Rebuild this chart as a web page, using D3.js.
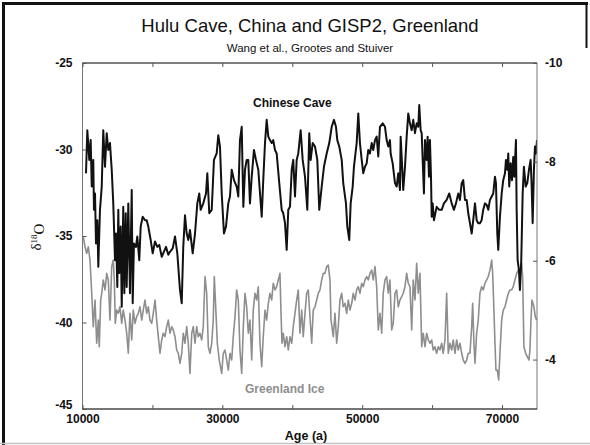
<!DOCTYPE html>
<html>
<head>
<meta charset="utf-8">
<script src="https://cdn.jsdelivr.net/npm/d3@7"></script>
<style>
  body { margin: 0; background: #fff; }
  svg { display: block; font-family: "Liberation Sans", Arial, sans-serif; }
</style>
</head>
<body>
<div id="chart"></div>
<script>
// Hulu Cave (Wang et al.) d18O, right axis
var caveSeries = [
  [10500,-7.77],[10690,-8.64],[10970,-8.04],[11170,-8.44],[11320,-7.50],[11540,-8.04],[11640,-7.03],[11790,-7.36],[11930,-6.35],[12120,-6.82],
  [12260,-5.88],[12500,-7.03],[12750,-7.50],[12970,-8.64],[13220,-7.90],[13460,-8.58],[13690,-8.24],[13930,-8.38],[14180,-7.84],[14400,-7.16],
  [14650,-6.01],[14790,-6.55],[14980,-5.47],[15120,-7.03],[15260,-5.75],[15460,-6.69],[15610,-5.07],[15830,-7.09],[15980,-5.34],[16180,-6.96],
  [16320,-5.47],[16550,-7.16],[16790,-5.34],[17040,-7.43],[17180,-5.14],[17360,-6.35],[17650,-6.28],[17840,-6.49],[18120,-6.01],[18320,-6.69],
  [18610,-6.89],[18940,-6.82],[19180,-6.82],[19410,-6.69],[19750,-6.42],[20040,-6.15],[20370,-6.39],[20700,-6.28],[20980,-6.32],[21330,-6.08],
  [21550,-6.15],[21940,-6.28],[22270,-6.12],[22510,-6.18],[22900,-6.25],[23230,-6.49],[23560,-6.15],[23940,-5.41],[24190,-5.14],[24410,-6.28],
  [24660,-6.92],[24900,-6.55],[25130,-6.42],[25370,-6.62],[25760,-6.15],[26090,-6.55],[26420,-7.16],[26700,-7.36],[26900,-7.03],[27270,-7.16],
  [27660,-7.36],[27850,-7.77],[28130,-6.96],[28480,-7.03],[28800,-8.04],[29190,-8.17],[29420,-8.54],[29660,-8.31],[29910,-7.36],[30230,-6.55],
  [30520,-6.69],[30850,-7.16],[31090,-7.30],[31340,-7.84],[31660,-7.63],[32050,-7.50],[32280,-7.30],[32520,-8.44],
  [32770,-8.71],[33000,-7.09],[33240,-7.84],[33480,-8.04],[33710,-8.04],[33950,-7.16],[34200,-7.70],[34520,-8.24],[34810,-8.04],[35140,-7.84],
  [35630,-6.89],[35850,-7.63],[36100,-8.38],[36340,-8.85],[36570,-8.51],[36810,-8.44],[37060,-8.38],[37280,-8.44],[37530,-8.24],[37770,-8.17],
  [38140,-7.57],[38490,-7.03],[38710,-6.96],[38960,-6.76],[39200,-6.22],[39430,-7.03],[39670,-7.09],[39920,-7.84],[40140,-8.04],[40390,-7.30],
  [40630,-8.04],[40860,-8.17],[41200,-8.64],[41490,-8.04],[41820,-7.70],[42150,-7.03],[42430,-8.58],[42630,-8.04],[42920,-8.38],[43250,-8.31],
  [43580,-8.04],[43860,-7.03],[44210,-7.50],[44530,-7.90],[44920,-8.17],[45290,-8.38],[45640,-8.71],[45960,-8.85],[46250,-8.71],[46440,-8.44],
  [46720,-8.31],[47070,-8.04],[47290,-7.57],[47680,-7.16],[47870,-6.69],[48150,-6.42],[48350,-7.16],[48640,-7.50],[48820,-7.90],[49210,-8.38],
  [49440,-8.98],[49680,-8.38],[49930,-8.04],[50150,-7.77],[50400,-7.90],[50640,-7.97],[50870,-8.24],[51110,-8.17],[51360,-8.38],[51580,-8.24],
  [51830,-8.44],[52070,-8.51],[52300,-8.11],[52540,-8.71],[52930,-8.78],[53260,-8.71],[53500,-8.44],[53730,-8.31],[53970,-8.44],
  [54070,-8.17],[54360,-7.97],[54690,-7.57],[54930,-7.50],[55160,-7.77],[55400,-7.43],[55500,-8.51],[55690,-7.97],[55870,-7.43],[56120,-7.90],
  [56360,-8.51],[56590,-8.98],[56830,-8.78],[57080,-8.64],[57300,-8.85],[57550,-8.58],[57790,-8.78],[58020,-8.71],[58160,-9.15],[58360,-8.64],
  [58510,-8.58],[58650,-8.04],[58830,-7.36],[58980,-8.44],[59220,-8.04],[59360,-8.51],[59550,-7.70],[59690,-8.44],[59840,-7.70],[59940,-6.89],
  [60080,-7.16],[60260,-6.82],[60650,-7.09],[61020,-7.03],[61370,-7.03],[61690,-7.16],[62080,-7.23],[62450,-7.36],[62800,-7.16],[63120,-7.03],
  [63410,-7.16],[63740,-7.36],[63980,-7.23],[64230,-7.57],[64450,-7.63],[64700,-7.23],[64940,-7.23],[65170,-6.96],[65410,-6.76],[65660,-6.55],
  [65880,-6.82],[66130,-7.16],[66370,-6.82],[66600,-6.76],[66840,-6.76],[67080,-6.82],[67310,-7.03],[67560,-7.16],[67800,-7.13],[68030,-7.03],
  [68270,-7.23],[68520,-7.30],[68740,-7.36],[68990,-7.70],[69130,-7.57],[69320,-6.55],[69460,-6.22],[69700,-6.89],[69950,-7.36],[70170,-7.63],
  [70420,-7.77],[70560,-8.04],[70750,-7.84],[70890,-8.17],[71030,-7.50],[71230,-7.97],[71420,-7.63],[71600,-8.10],[71750,-7.70],[71990,-8.44],
  [72090,-7.03],[72230,-6.01],[72420,-5.81],[72560,-5.41],[72750,-6.01],[72950,-7.36],[73130,-7.90],[73380,-7.50],[73610,-7.57],[73850,-7.84],
  [74090,-8.04],[74240,-7.50],[74380,-6.76],[74560,-7.84],[74710,-8.31],[74850,-8.17],[75000,-8.44]
];

// GISP2 (Grootes and Stuiver) d18O, left axis
var iceSeries = [
  [10110,-35.04],[10360,-35.62],[10600,-36.00],[10830,-35.62],[11070,-36.39],[11320,-38.31],[11540,-40.24],[11790,-38.70],[12030,-41.20],[12260,-39.86],
  [12400,-41.40],[12600,-38.70],[12750,-38.31],[12970,-37.54],[13220,-38.12],[13460,-37.16],[13690,-37.54],[13930,-39.86],[14180,-36.77],[14400,-36.39],
  [14550,-37.54],[14690,-40.05],[14890,-39.28],[15120,-39.47],[15360,-39.09],[15610,-40.05],[15830,-39.28],[16080,-39.86],[16320,-40.62],[16550,-41.78],
  [16790,-39.47],[17040,-41.01],[17260,-39.28],[17510,-40.05],[17750,-39.66],[17980,-39.47],[18220,-39.09],[18470,-39.86],[18690,-39.28],[18940,-38.70],
  [19180,-39.47],[19410,-39.09],[19650,-39.86],[19900,-40.05],[20120,-39.47],[20370,-38.70],[20610,-39.86],[20840,-40.82],[21080,-41.78],[21330,-41.01],
  [21550,-40.62],[21800,-40.82],[22040,-40.24],[22270,-39.86],[22510,-40.62],[22760,-40.24],[22980,-40.43],[23230,-40.82],[23470,-41.59],[23700,-41.78],
  [23940,-42.36],[24190,-41.78],[24410,-40.62],[24660,-41.20],[24900,-40.24],[25130,-41.20],[25370,-42.94],[25620,-40.62],[25840,-40.24],[26090,-41.20],
  [26330,-40.24],[26560,-40.82],[26800,-40.62],[27050,-41.01],[27270,-40.24],[27520,-37.35],[27760,-38.31],[27990,-41.40],[28230,-41.78],[28480,-41.20],
  [28700,-39.86],[28850,-37.35],[29090,-39.47],[29280,-41.20],[29560,-42.17],[29910,-42.94],[30130,-41.78],[30380,-41.59],[30620,-42.17],[30850,-42.75],
  [31090,-41.78],[31340,-42.17],[31560,-40.82],[31810,-39.66],[32050,-38.12],[32280,-38.70],
  [32520,-41.59],[32770,-42.94],[33000,-40.24],[33240,-38.31],[33480,-39.09],[33710,-40.62],[33950,-39.86],[34200,-42.17],[34420,-39.28],[34670,-38.31],
  [34910,-38.70],[35140,-37.93],[35380,-41.20],[35630,-42.55],[35850,-40.82],[36100,-39.28],[36340,-39.86],[36570,-38.89],[36810,-38.31],[37060,-38.70],
  [37280,-37.73],[37530,-38.12],[37770,-37.93],[38000,-37.54],[38240,-37.16],[38390,-39.47],[38530,-41.20],[38710,-40.62],[38960,-41.40],[39200,-40.82],
  [39430,-41.59],[39670,-40.82],[39920,-41.20],[40140,-40.24],[40390,-39.47],[40630,-38.70],[40860,-38.12],[41100,-40.62],[41350,-39.28],[41570,-40.82],
  [41820,-39.47],[42060,-38.31],[42290,-38.12],[42530,-39.66],[42780,-41.20],[43000,-39.28],[43250,-39.09],[43490,-38.70],[43720,-38.31],[43960,-38.12],
  [44210,-37.54],[44430,-37.16],[44680,-37.16],[44920,-36.77],[45150,-36.68],[45390,-37.54],[45540,-39.86],[45680,-40.24],[45860,-40.82],[46110,-39.47],
  [46350,-41.20],[46580,-40.24],[46820,-38.70],[47070,-38.31],[47290,-39.09],[47540,-38.89],[47780,-39.47],[48010,-38.70],[48250,-39.28],[48500,-38.89],
  [48720,-38.31],[48970,-38.70],[49210,-38.12],[49440,-37.93],[49680,-38.31],[49930,-37.73],[50150,-37.93],[50400,-37.54],[50640,-37.35],[50870,-37.54],
  [51110,-37.16],[51360,-36.97],[51580,-37.54],[51830,-36.77],[52070,-37.93],[52300,-40.43],[52540,-39.47],[52790,-40.62],[53010,-38.31],[53260,-37.54],
  [53500,-37.35],[53730,-38.31],[53970,-37.54],
  [54220,-40.43],[54440,-40.05],[54690,-38.31],[54930,-38.12],[55160,-39.09],[55400,-38.70],[55650,-38.51],[55870,-38.31],[56120,-37.93],[56360,-37.16],
  [56590,-37.73],[56830,-37.93],[57080,-40.43],[57300,-37.54],[57550,-38.70],[57790,-36.58],[58020,-38.31],[58260,-37.16],[58510,-41.40],[58730,-40.62],
  [58980,-41.40],[59220,-40.62],[59450,-41.01],[59690,-41.20],[59940,-41.01],[60160,-41.59],[60410,-41.40],[60650,-41.78],[60880,-41.40],[61120,-41.59],
  [61370,-41.20],[61590,-41.78],[61840,-41.01],[62080,-38.31],[62310,-41.78],[62550,-41.20],[62800,-41.59],[63020,-41.01],[63270,-41.78],[63510,-41.01],
  [63740,-41.59],[63980,-41.20],[64230,-41.78],[64450,-42.17],[64700,-42.36],[64940,-42.17],[65170,-41.78],[65410,-41.78],[65660,-40.24],[65800,-38.89],
  [65980,-41.20],[66130,-42.36],[66370,-40.62],[66600,-39.86],[66840,-38.31],[67080,-37.93],[67310,-38.12],[67560,-37.73],[67800,-37.54],[68030,-37.35],
  [68270,-36.97],[68520,-36.39],[68660,-37.16],[68840,-39.28],[68990,-41.20],[69130,-42.75],[69320,-42.75],[69520,-43.32],[69700,-41.78],[69950,-39.86],
  [70170,-39.28],[70420,-39.09],[70660,-38.70],[70890,-38.31],[71130,-38.12],[71370,-38.12],[71600,-37.93],[71840,-37.54],[72090,-37.16],[72320,-36.97],
  [72560,-36.97],[72800,-36.58],[72950,-37.35],[73130,-41.40],[73380,-41.78],[73610,-41.97],[73850,-42.17],[73990,-41.59],[74140,-39.86],[74280,-38.70],
  [74560,-39.09],[74750,-39.66],[74950,-39.86]
];

var ageTicks = [10000, 20000, 30000, 40000, 50000, 60000, 70000];
var ageLabels = [10000, 30000, 50000, 70000];
var leftTicks = [-25, -30, -35, -40, -45];
var rightTicks = [-10, -8, -6, -4];

var width = 590, height = 445;
var margin = { top: 63, right: 53, bottom: 36, left: 82.5 };
var plotW = width - margin.left - margin.right;
var plotH = height - margin.top - margin.bottom;

var svg = d3.select("#chart").append("svg")
  .attr("width", width).attr("height", height);

// scanned page border
svg.append("line").attr("x1", 3.5).attr("x2", 3.5).attr("y1", 2).attr("y2", 445)
  .attr("stroke", "#111").attr("stroke-width", 3);
svg.append("line").attr("x1", 2).attr("x2", 588).attr("y1", 3.5).attr("y2", 3.5)
  .attr("stroke", "#111").attr("stroke-width", 3);
svg.append("line").attr("x1", 586.5).attr("x2", 586.5).attr("y1", 2).attr("y2", 48)
  .attr("stroke", "#111").attr("stroke-width", 2);
svg.append("line").attr("x1", 0).attr("x2", 590).attr("y1", 443.5).attr("y2", 443.5)
  .attr("stroke", "#c4c4c4").attr("stroke-width", 1.5);

var x = d3.scaleLinear().domain([10000, 75000]).range([0, plotW]);
var yLeft = d3.scaleLinear().domain([-45, -25]).range([plotH, 0]);
var yRight = d3.scaleLinear().domain([-3, -10]).range([plotH, 0]);

var g = svg.append("g").attr("transform", "translate(" + margin.left + "," + margin.top + ")");

g.append("clipPath").attr("id", "clip")
  .append("rect").attr("width", plotW).attr("height", plotH);

// titles
svg.append("text").attr("x", 310).attr("y", 32).attr("text-anchor", "middle")
  .style("font-size", "18.5px").attr("fill", "#111")
  .text("Hulu Cave, China and GISP2, Greenland");
svg.append("text").attr("x", 310).attr("y", 51.5).attr("text-anchor", "middle")
  .style("font-size", "11.5px").attr("fill", "#111")
  .text("Wang et al., Grootes and Stuiver");

// lines
var iceLine = d3.line().x(function (d) { return x(d[0]); }).y(function (d) { return yLeft(d[1]); });
var caveLine = d3.line().x(function (d) { return x(d[0]); }).y(function (d) { return yRight(d[1]); });

var lines = g.append("g").attr("clip-path", "url(#clip)");
lines.append("path").datum(iceSeries).attr("d", iceLine)
  .attr("fill", "none").attr("stroke", "#8e8e8e").attr("stroke-width", 1.6)
  .attr("stroke-linejoin", "round");
lines.append("path").datum(caveSeries).attr("d", caveLine)
  .attr("fill", "none").attr("stroke", "#111").attr("stroke-width", 2)
  .attr("stroke-linejoin", "round");

// frame
g.append("rect").attr("width", plotW).attr("height", plotH)
  .attr("fill", "none").attr("stroke", "#777").attr("stroke-width", 1);
g.append("line").attr("x1", 0).attr("x2", plotW).attr("y1", plotH).attr("y2", plotH)
  .attr("stroke", "#333").attr("stroke-width", 1.2);
g.append("line").attr("x1", 0).attr("x2", plotW).attr("y1", 0).attr("y2", 0)
  .attr("stroke", "#444").attr("stroke-width", 1);

function styleAxis(sel) {
  sel.select(".domain").remove();
  sel.selectAll(".tick line").attr("stroke", "#555");
  sel.selectAll(".tick text").attr("fill", "#111")
    .style("font-size", "12px").style("font-weight", "bold")
    .style("font-family", "'Liberation Sans', Arial, sans-serif");
}

g.append("g").attr("transform", "translate(0," + plotH + ")")
  .call(d3.axisBottom(x).tickValues(ageTicks).tickSize(-4).tickPadding(5)
    .tickFormat(function (d) { return ageLabels.indexOf(d) >= 0 ? String(d) : ""; }))
  .call(styleAxis);

g.append("g")
  .call(d3.axisTop(x).tickValues(ageTicks).tickSize(-4).tickFormat(""))
  .call(styleAxis);

g.append("g")
  .call(d3.axisLeft(yLeft).tickValues(leftTicks).tickSize(-4).tickPadding(10)
    .tickFormat(function (d) { return String(d); }))
  .call(styleAxis)
  .selectAll(".tick text")
  .filter(function (d) { return d === -45; })
  .attr("dy", "-0.02em");

g.append("g").attr("transform", "translate(" + plotW + ",0)")
  .call(d3.axisRight(yRight).tickValues(rightTicks).tickSize(-4).tickPadding(8)
    .tickFormat(function (d) { return String(d); }))
  .call(styleAxis);

// axis titles
var yTitle = svg.append("text")
  .attr("transform", "translate(41,237) rotate(-90)")
  .attr("text-anchor", "middle")
  .style("font-family", "'Liberation Serif', 'Times New Roman', serif")
  .style("font-size", "15px").attr("fill", "#111");
yTitle.append("tspan").text("δ");
yTitle.append("tspan").attr("dy", "-0.5em").style("font-size", "9px").text("18");
yTitle.append("tspan").attr("dy", "0.5em").text("O");

svg.append("text").attr("x", 306).attr("y", 440).attr("text-anchor", "middle")
  .style("font-size", "12.5px").style("font-weight", "bold").attr("fill", "#111")
  .text("Age (a)");

// series labels
svg.append("text").attr("x", 253).attr("y", 107)
  .style("font-size", "12px").style("font-weight", "bold").attr("fill", "#111")
  .text("Chinese Cave");
svg.append("text").attr("x", 245).attr("y", 393)
  .style("font-size", "12px").style("font-weight", "bold").attr("fill", "#8e8e8e")
  .text("Greenland Ice");
</script>
</body>
</html>
